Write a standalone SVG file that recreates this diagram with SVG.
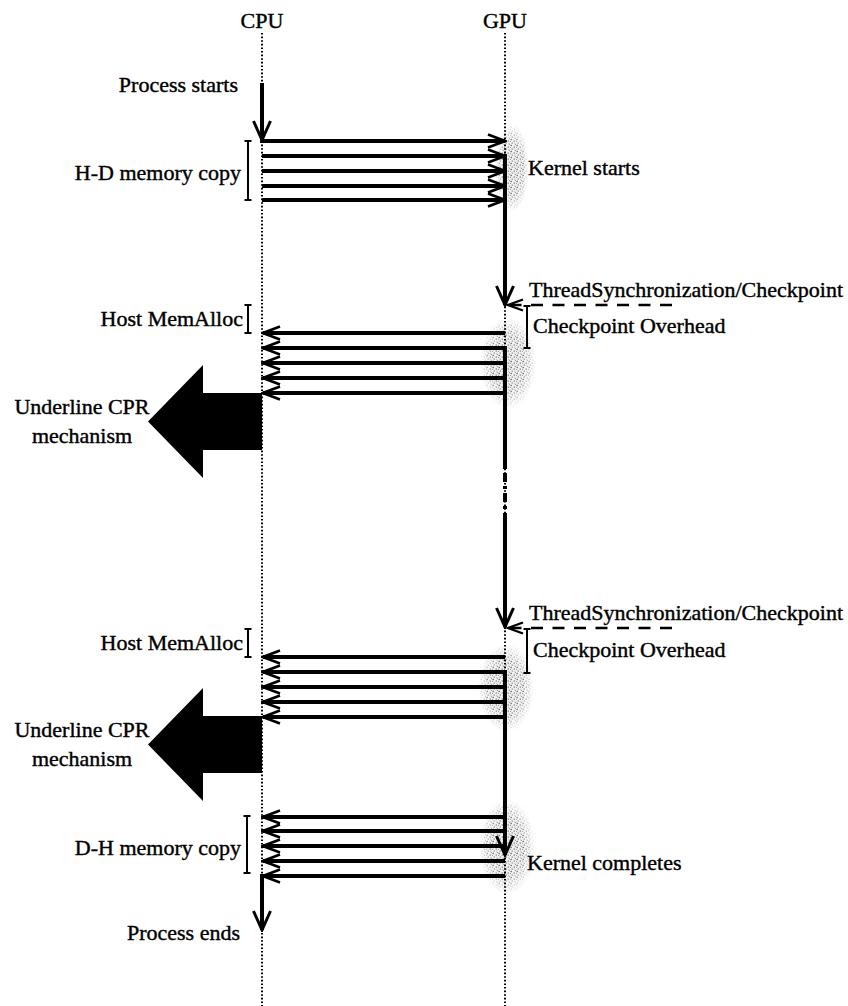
<svg xmlns="http://www.w3.org/2000/svg" width="848" height="1006" viewBox="0 0 848 1006">
  <style>
    .lbl { font-family: "Liberation Serif", "Times New Roman", serif; font-size: 22px; fill: #000; stroke: #000; stroke-width: 0.4; }
    .lane { stroke: #000; stroke-width: 2; stroke-dasharray: 1.6 2; fill: none; }
    .flow { stroke: #000; stroke-width: 4; fill: none; }
    .bracket { stroke: #000; stroke-width: 2; fill: none; }
    .sync { stroke: #000; stroke-width: 2.5; stroke-dasharray: 12 9.5; fill: none; }
    .cpr { fill: #000; }
    .haze { fill: url(#dots); }
  </style>
  <defs>
    <!-- speckled shading used round the GPU timeline -->
    <pattern id="dots" width="6" height="6" patternUnits="userSpaceOnUse">
      <rect width="6" height="6" fill="#f2f2f2"/>
      <rect x="0.5" y="0.8" width="1.4" height="1.4" fill="#666"/>
      <rect x="3.6" y="2.4" width="1.3" height="1.3" fill="#777"/>
      <rect x="1.6" y="4.4" width="1.3" height="1.3" fill="#888"/>
      <rect x="4.8" y="0" width="1.1" height="1.1" fill="#999"/>
      <rect x="0" y="3" width="1" height="1" fill="#999"/>
      <rect x="4.4" y="4.8" width="1" height="1" fill="#aaa"/>
    </pattern>
    <radialGradient id="fadeGrad">
      <stop offset="0" stop-color="#fff"/>
      <stop offset="0.6" stop-color="#fff" stop-opacity="0.95"/>
      <stop offset="1" stop-color="#fff" stop-opacity="0"/>
    </radialGradient>
    <mask id="fade" maskContentUnits="objectBoundingBox">
      <rect width="1" height="1" fill="url(#fadeGrad)"/>
    </mask>
    <!-- open chevron heads -->
    <marker id="headR" viewBox="-20 -9 22 18" markerWidth="22" markerHeight="18" refX="0" refY="0" orient="auto" markerUnits="userSpaceOnUse">
      <path d="M-17,-6.5 L0,0 L-17,6.5" fill="none" stroke="#000" stroke-width="2.6"/>
    </marker>
    <marker id="headDown" viewBox="-22 -11 24 22" markerWidth="24" markerHeight="22" refX="0" refY="0" orient="auto" markerUnits="userSpaceOnUse">
      <path d="M-19,-8.5 L0,0 L-19,8.5" fill="none" stroke="#000" stroke-width="3"/>
    </marker>
    <marker id="headSmall" viewBox="-18 -8 20 16" markerWidth="20" markerHeight="16" refX="0" refY="0" orient="auto" markerUnits="userSpaceOnUse">
      <path d="M-15,-5.5 L0,0 L-15,5.5" fill="none" stroke="#000" stroke-width="2.2"/>
    </marker>
  </defs>

  <rect width="848" height="1006" fill="#fff"/>

  <!-- shading round the GPU line -->
  <g id="gpu-shading">
    <ellipse class="haze" cx="512" cy="168" rx="17" ry="44" mask="url(#fade)"/>
    <ellipse class="haze" cx="508" cy="363" rx="28" ry="46" mask="url(#fade)"/>
    <ellipse class="haze" cx="506" cy="688" rx="28" ry="44" mask="url(#fade)"/>
    <ellipse class="haze" cx="507" cy="847" rx="28" ry="48" mask="url(#fade)"/>
  </g>

  <!-- timelines -->
  <g id="cpu-lane">
    <text class="lbl" x="262" y="28" text-anchor="middle">CPU</text>
    <line class="lane" x1="262" y1="33" x2="262" y2="1006"/>
  </g>
  <g id="gpu-lane">
    <text class="lbl" x="505" y="28" text-anchor="middle">GPU</text>
    <line class="lane" x1="505" y1="33" x2="505" y2="1006"/>
  </g>

  <g id="process-start">
    <text class="lbl" x="238" y="92" text-anchor="end">Process starts</text>
  </g>

  <g id="hd-copy">
    <text class="lbl" x="241" y="180" text-anchor="end">H-D memory copy</text>
    <path class="bracket" d="M248,141 V200 M244.5,141 H251.5 M244.5,200 H251.5"/>
  </g>

  <g id="kernel-start">
    <text class="lbl" x="528" y="175">Kernel starts</text>
  </g>

  <g id="checkpoint-1">
    <text class="lbl" x="529" y="297">ThreadSynchronization/Checkpoint</text>
    <text class="lbl" x="533" y="333">Checkpoint Overhead</text>
    <path class="bracket" d="M527,306 V348 M523.5,306 H530.5 M523.5,348 H530.5"/>
  </g>

  <g id="host-alloc-1">
    <text class="lbl" x="243" y="326" text-anchor="end">Host MemAlloc</text>
    <path class="bracket" d="M248,305 V333 M244.5,305 H251.5 M244.5,333 H251.5" stroke-width="2.5"/>
  </g>

  <g id="cpr-1">
    <polygon class="cpr" points="262,393 203,393 203,365 148,421.5 203,478 203,450 262,450"/>
    <text class="lbl" x="82" y="414" text-anchor="middle">Underline CPR</text>
    <text class="lbl" x="82" y="443" text-anchor="middle">mechanism</text>
  </g>

  <g id="checkpoint-2">
    <text class="lbl" x="529" y="620">ThreadSynchronization/Checkpoint</text>
    <text class="lbl" x="533" y="657">Checkpoint Overhead</text>
    <path class="bracket" d="M527,629 V673 M523.5,629 H530.5 M523.5,673 H530.5"/>
  </g>

  <g id="host-alloc-2">
    <text class="lbl" x="243" y="650" text-anchor="end">Host MemAlloc</text>
    <path class="bracket" d="M248,629 V657 M244.5,629 H251.5 M244.5,657 H251.5" stroke-width="2.5"/>
  </g>

  <g id="cpr-2">
    <polygon class="cpr" points="262,716 203,716 203,688 148,744.5 203,801 203,773 262,773"/>
    <text class="lbl" x="82" y="737" text-anchor="middle">Underline CPR</text>
    <text class="lbl" x="82" y="766" text-anchor="middle">mechanism</text>
  </g>

  <g id="dh-copy">
    <text class="lbl" x="241" y="855" text-anchor="end">D-H memory copy</text>
    <path class="bracket" d="M247,816 V873 M243.5,816 H250.5 M243.5,873 H250.5"/>
  </g>

  <g id="kernel-complete">
    <text class="lbl" x="527" y="870">Kernel completes</text>
  </g>

  <g id="process-end">
    <text class="lbl" x="240" y="940" text-anchor="end">Process ends</text>
  </g>

  <g id="connectors">
    <!-- process start on the CPU -->
    <line class="flow" x1="262" y1="83" x2="262" y2="140" marker-end="url(#headDown)"/>
    <!-- host to device copies -->
    <line class="flow" x1="260" y1="141" x2="505" y2="141" marker-end="url(#headR)"/>
    <line class="flow" x1="262" y1="156" x2="505" y2="156" marker-end="url(#headR)"/>
    <line class="flow" x1="262" y1="171" x2="505" y2="171" marker-end="url(#headR)"/>
    <line class="flow" x1="262" y1="186" x2="505" y2="186" marker-end="url(#headR)"/>
    <line class="flow" x1="262" y1="200" x2="505" y2="200" marker-end="url(#headR)"/>

    <!-- kernel execution on the GPU -->
    <line class="flow" x1="505" y1="154" x2="505" y2="305" marker-end="url(#headDown)"/>
    <line class="sync" x1="672" y1="305" x2="508" y2="305" marker-end="url(#headSmall)"/>

    <!-- checkpoint transfers back to the host -->
    <line class="flow" x1="505" y1="333" x2="263" y2="333" marker-end="url(#headR)"/>
    <line class="flow" x1="505" y1="348" x2="263" y2="348" marker-end="url(#headR)"/>
    <line class="flow" x1="505" y1="363" x2="263" y2="363" marker-end="url(#headR)"/>
    <line class="flow" x1="505" y1="378" x2="263" y2="378" marker-end="url(#headR)"/>
    <line class="flow" x1="505" y1="393" x2="263" y2="393" marker-end="url(#headR)"/>

    <line class="flow" x1="505" y1="346" x2="505" y2="466"/>
    <!-- elided interval -->
    <line x1="505" y1="466" x2="505" y2="514" stroke="#000" stroke-width="4" stroke-dasharray="3 4 9 4 3 4 9 4 3 4"/>
    <line class="flow" x1="505" y1="514" x2="505" y2="627" marker-end="url(#headDown)"/>
    <line class="sync" x1="672" y1="628" x2="508" y2="628" marker-end="url(#headSmall)"/>

    <line class="flow" x1="505" y1="657" x2="263" y2="657" marker-end="url(#headR)"/>
    <line class="flow" x1="505" y1="672" x2="263" y2="672" marker-end="url(#headR)"/>
    <line class="flow" x1="505" y1="687" x2="263" y2="687" marker-end="url(#headR)"/>
    <line class="flow" x1="505" y1="702" x2="263" y2="702" marker-end="url(#headR)"/>
    <line class="flow" x1="505" y1="717" x2="263" y2="717" marker-end="url(#headR)"/>

    <line class="flow" x1="505" y1="670" x2="505" y2="855" marker-end="url(#headDown)"/>

    <!-- device to host copies -->
    <line class="flow" x1="505" y1="817" x2="263" y2="817" marker-end="url(#headR)"/>
    <line class="flow" x1="505" y1="831" x2="263" y2="831" marker-end="url(#headR)"/>
    <line class="flow" x1="505" y1="846" x2="263" y2="846" marker-end="url(#headR)"/>
    <line class="flow" x1="505" y1="861" x2="263" y2="861" marker-end="url(#headR)"/>
    <line class="flow" x1="505" y1="876" x2="263" y2="876" marker-end="url(#headR)"/>

    <!-- process end on the CPU -->
    <line class="flow" x1="262" y1="874" x2="262" y2="930" marker-end="url(#headDown)"/>
  </g>
</svg>
